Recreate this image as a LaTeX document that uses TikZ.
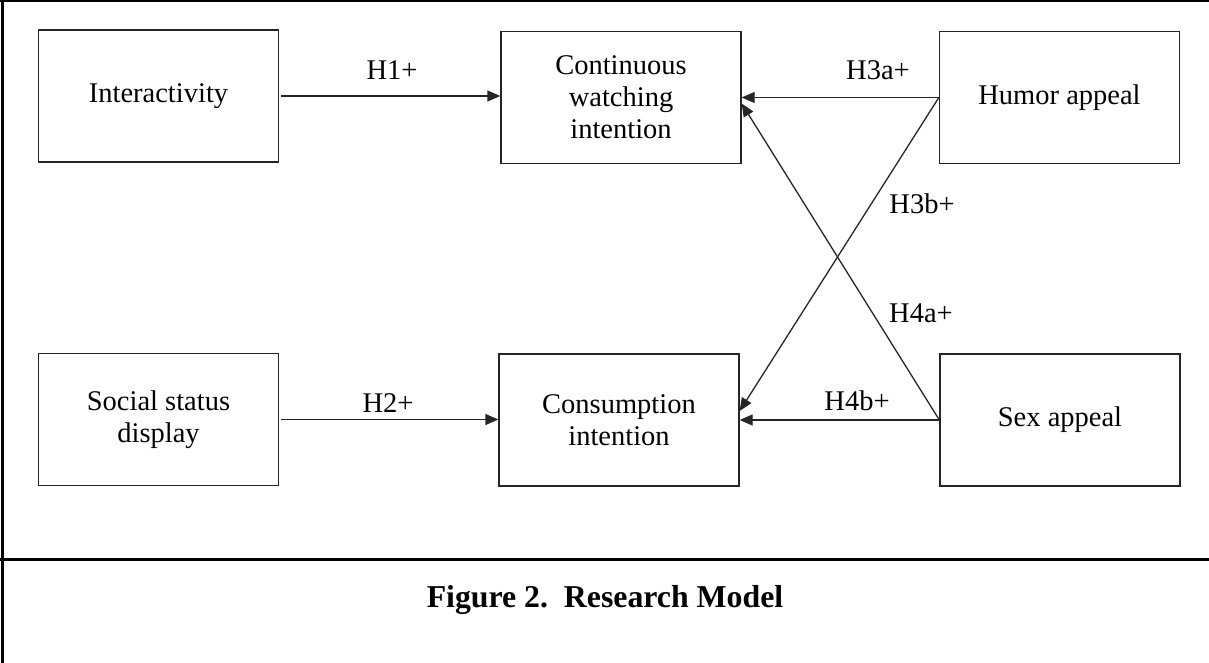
\documentclass[tikz,border=0pt]{standalone}
\usepackage{fontspec}
\setmainfont{Liberation Serif}
\usetikzlibrary{arrows.meta}
\tikzset{
  box/.style={draw=black!85, line width=1.3pt, minimum width=240pt, minimum height=132pt, align=center, inner sep=0pt, font=\fontsize{28.5}{32}\selectfont},
  conn/.style={draw=black!85, line width=1.3pt, -{Triangle[length=13pt,width=11pt]}},
  lbl/.style={anchor=base, inner sep=0pt, font=\fontsize{28.5}{32}\selectfont},
  frame/.style={draw=black, line width=3pt}
}
\begin{document}
\begin{tikzpicture}[x=1pt,y=-1pt]
\useasboundingbox (0,0) rectangle (1209,663);
% frame
\draw[line width=2pt] (0,1) -- (1209,1);
\draw[frame] (2,0) -- (2,663);
\draw[frame] (0,559) -- (1209,559);
% boxes
\node[box] (inter) at (158.5,96) {Interactivity};
\node[box] (cont) at (621,97.5) {Continuous\\watching\\intention};
\node[box] (humor) at (1059.5,97.5) {Humor appeal};
\node[box] (social) at (158.5,419.5) {Social status\\display};
\node[box] (cons) at (619,420) {Consumption\\intention};
\node[box] (sex) at (1060,420) {Sex appeal};
% connectors
\draw[conn] ([xshift=2pt]inter.east) -- (inter.east -| cont.west);
\draw[conn] ([xshift=2pt]social.east) -- (social.east -| cons.west);
\draw[conn] (humor.west) -- (cont.east);
\draw[conn] (humor.west) -- ([yshift=9pt]cons.east);
\draw[conn] (sex.west) -- ([yshift=-6pt]cont.east);
\draw[conn] (sex.west) -- (cons.east);
% labels
\node[lbl] (l1) at (392,80) {H1+};
\node[lbl] (l2) at (388,412) {H2+};
\node[lbl] (l3a) at (878,80) {H3a+};
\node[lbl] (l3b) at (922,213) {H3b+};
\node[lbl] (l4a) at (921,322) {H4a+};
\node[lbl] (l4b) at (857,410) {H4b+};
% caption
\node[anchor=base, inner sep=0pt, font=\fontsize{31.8}{36}\selectfont\bfseries] (cap) at (605,607) {Figure 2.\ \ Research Model};
\end{tikzpicture}
\end{document}
